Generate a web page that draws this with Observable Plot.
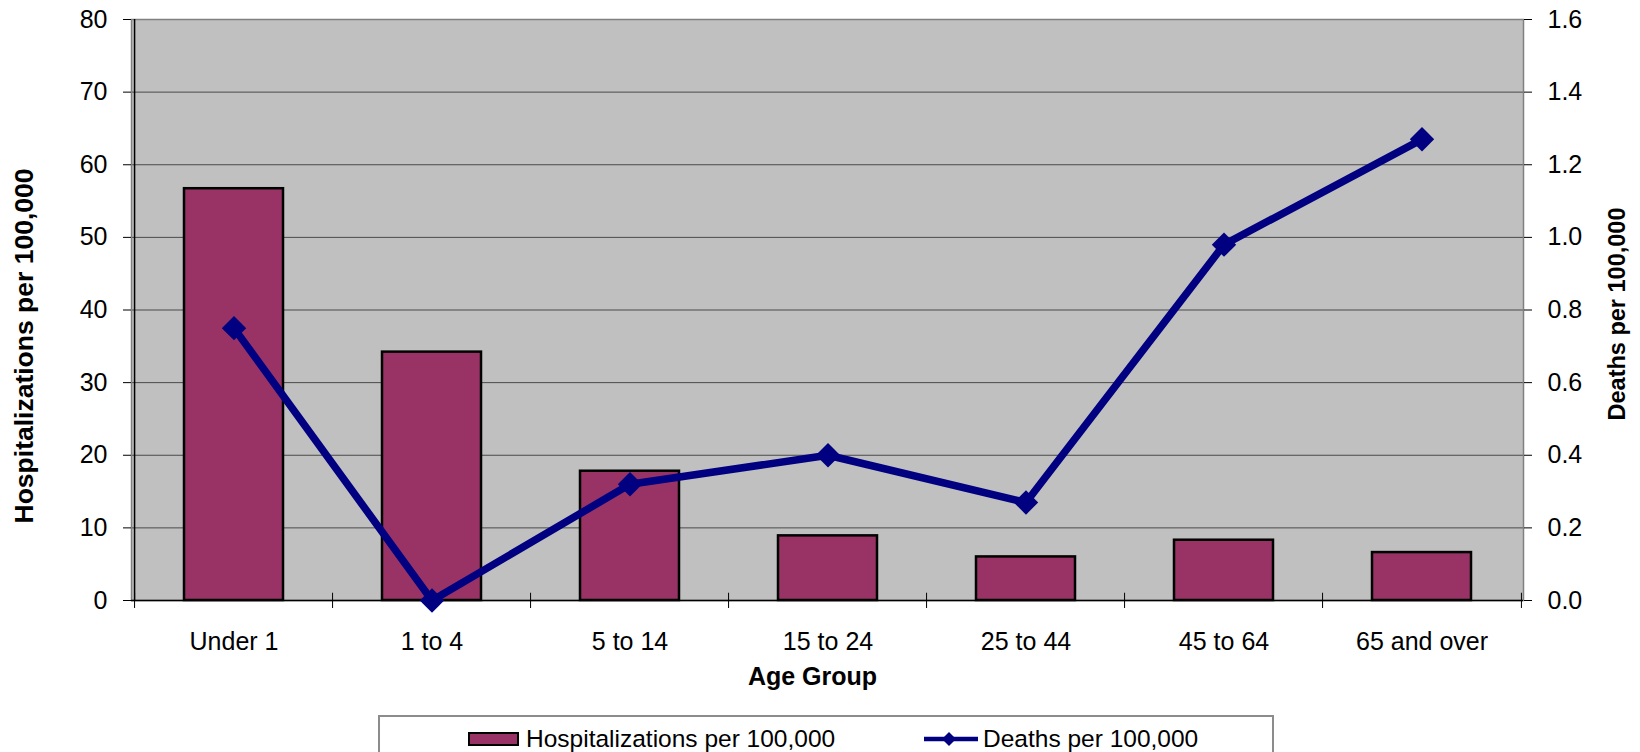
<!DOCTYPE html>
<html>
<head>
<meta charset="utf-8">
<script src="https://cdn.jsdelivr.net/npm/d3@7"></script>
<script src="https://cdn.jsdelivr.net/npm/@observablehq/plot@0.6"></script>
<style>
  html, body { margin: 0; padding: 0; background: #fff; overflow: hidden; }
  #wrap { position: relative; width: 1640px; height: 752px; font-family: "Liberation Sans", Arial, sans-serif; }
  #legend { position: absolute; left: 378px; top: 715px; width: 896px; height: 60px; border: 2px solid #8c8c8c; box-sizing: border-box; }
  .item { position: absolute; top: 8px; display: flex; align-items: center; font-size: 24.5px; color: #000; white-space: nowrap; }
  .sw { width: 51px; height: 14px; background: #993366; border: 2.5px solid #000; box-sizing: border-box; margin-right: 7px; }
</style>
</head>
<body>
<div id="wrap">
  <div id="chart"></div>
  <div id="legend">
    <div class="item" style="left:88px"><div class="sw"></div><span>Hospitalizations per 100,000</span></div>
    <div class="item" style="left:542px"><svg width="58" height="20" style="margin-right:3px"><line x1="2" y1="10" x2="56" y2="10" stroke="#000080" stroke-width="4.5"/><path d="M27,3 L34,10 L27,17 L20,10 Z" fill="#000080"/></svg><span>Deaths per 100,000</span></div>
  </div>
</div>
<script>
const categories = ["Under 1", "1 to 4", "5 to 14", "15 to 24", "25 to 44", "45 to 64", "65 and over"];
const hospitalizations = [56.7, 34.2, 17.8, 8.9, 6.0, 8.3, 6.6];
const deaths = [0.75, 0.0, 0.32, 0.40, 0.27, 0.98, 1.27];
const hospTicks = [0, 10, 20, 30, 40, 50, 60, 70, 80];
const deathTicks = [0, 0.2, 0.4, 0.6, 0.8, 1.0, 1.2, 1.4, 1.6];

const RATIO = 80 / 1.6; // right axis (deaths) mapped onto left axis units
const data = categories.map((c, i) => ({age: c, hosp: hospitalizations[i], deaths: deaths[i]}));

const W = 1640, H = 712, ML = 131, MR = 117, MT = 19, MB = 112;
const step = (W - ML - MR) / categories.length;
const font = '"Liberation Sans", Arial, sans-serif';

const chart = Plot.plot({
  width: W,
  height: H,
  marginLeft: ML,
  marginRight: MR,
  marginTop: MT,
  marginBottom: MB,
  style: {fontFamily: font, fontSize: "25px", color: "#000", background: "#fff", overflow: "visible"},
  x: {type: "band", domain: categories, paddingInner: 0.5, paddingOuter: 0.25, align: 0.5},
  y: {domain: [0, 80]},
  marks: [
    Plot.frame({fill: "#C0C0C0"}),
    Plot.gridY(hospTicks, {stroke: "#4a4a4a", strokeOpacity: 1, strokeWidth: 1}),
    Plot.frame({stroke: "#808080", strokeWidth: 1.5}),
    Plot.barY(data, {x: "age", y: "hosp", fill: "#993366", stroke: "#000", strokeWidth: 2.5}),
    // left and bottom axis lines
    Plot.ruleX([categories[0]], {x: d => d, dx: -step / 2, stroke: "#000", strokeWidth: 1.5}),
    Plot.ruleY([0], {stroke: "#000", strokeWidth: 1.5}),
    // category boundary tick marks
    Plot.ruleX(categories, {x: d => d, dx: -step / 2, y1: 1, y2: -1.1, stroke: "#000", strokeWidth: 1}),
    Plot.ruleX([categories[categories.length - 1]], {x: d => d, dx: step / 2, y1: 1, y2: -1.1, stroke: "#000", strokeWidth: 1}),
    // deaths line
    Plot.line(data, {x: "age", y: d => d.deaths * RATIO, stroke: "#000080", strokeWidth: 7.5, strokeLinejoin: "miter"}),
    Plot.dot(data, {x: "age", y: d => d.deaths * RATIO, symbol: "diamond2", r: 11, fill: "#000080", stroke: "none"}),
    // axes
    Plot.axisY(hospTicks, {anchor: "left", tickSize: 8, tickPadding: 16, label: null, fontSize: 25}),
    Plot.axisY(deathTicks.map(d => d * RATIO), {anchor: "right", tickSize: 8, tickPadding: 16, label: null, fontSize: 25, tickFormat: d => (d / RATIO).toFixed(1)}),
    Plot.axisX({anchor: "bottom", tickSize: 0, tickPadding: 32, label: null, fontSize: 25}),
    // titles
    Plot.text(["Age Group"], {frameAnchor: "bottom", dx: -15, dy: 67, lineAnchor: "top", fontWeight: "bold", fontSize: 25}),
    Plot.text(["Hospitalizations per 100,000"], {frameAnchor: "left", dx: -107, dy: 36, rotate: -90, textAnchor: "middle", fontWeight: "bold", fontSize: 26.5}),
    Plot.text(["Deaths per 100,000"], {frameAnchor: "right", dx: 94, dy: 4, rotate: -90, textAnchor: "middle", fontWeight: "bold", fontSize: 23.5})
  ]
});
document.getElementById("chart").appendChild(chart);
</script>
</body>
</html>
